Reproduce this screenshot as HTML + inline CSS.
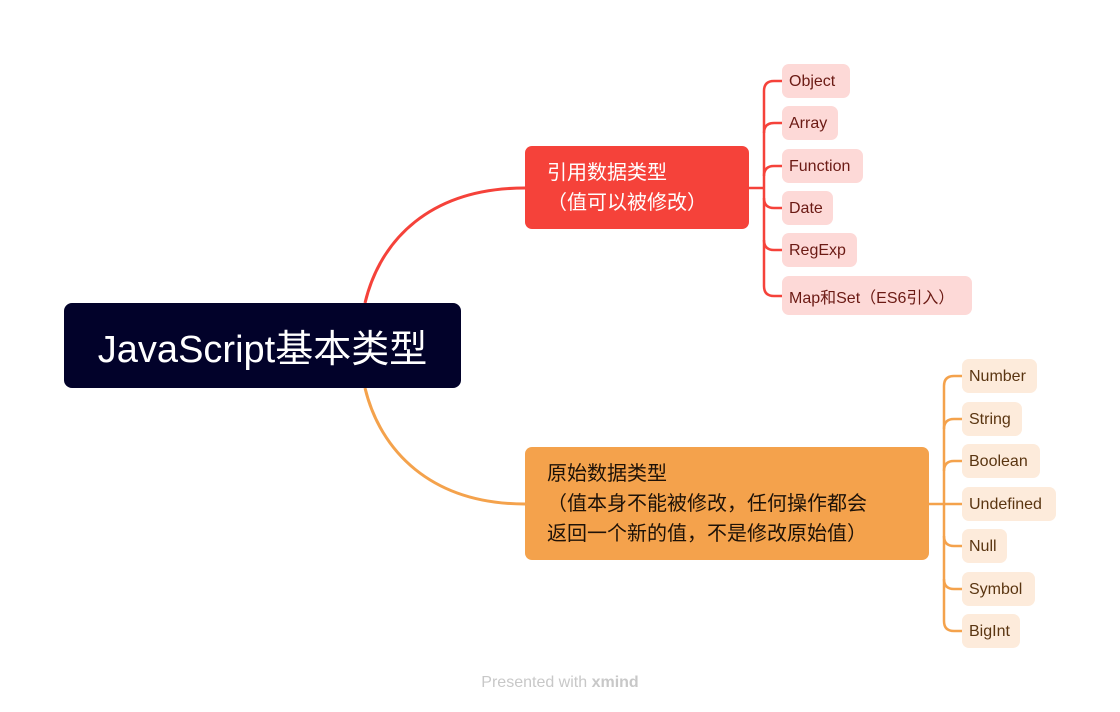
<!DOCTYPE html>
<html><head><meta charset="utf-8"><style>
body{margin:0;width:1120px;height:712px;background:#fff;position:relative;overflow:hidden;font-family:"Liberation Sans","Noto Sans CJK SC",sans-serif}
.n{position:absolute;box-sizing:border-box}
.r{background:#fdd9d7;color:#6b1a14;border-radius:7px;font-size:16px;padding-left:7px;padding-top:1px;display:flex;align-items:center}
.o{background:#fdebdb;color:#5a3511;border-radius:7px;font-size:16px;padding-left:7px;padding-top:1px;display:flex;align-items:center}
</style></head><body>
<svg width="1120" height="712" style="position:absolute;left:0;top:0">
<g fill="none" stroke-width="3">
<path d="M365 303 C380 240 430 188 525 188" stroke="#f5423a"/>
<path d="M365 388 C380 450 430 504 525 504" stroke="#f4a24c"/>
<g stroke="#f5423a" stroke-width="2.5">
<path d="M749 188 H764"/>
<path d="M782 81 H774 Q764 81 764 91 V286 Q764 296 774 296 H782"/>
<path d="M764 133 Q764 123 774 123 H782"/>
<path d="M764 176 Q764 166 774 166 H782"/>
<path d="M764 198 Q764 208 774 208 H782"/>
<path d="M764 240 Q764 250 774 250 H782"/>
</g>
<g stroke="#f4a24c" stroke-width="2.5">
<path d="M929 504 H944"/>
<path d="M962 376 H954 Q944 376 944 386 V621 Q944 631 954 631 H962"/>
<path d="M944 429 Q944 419 954 419 H962"/>
<path d="M944 471 Q944 461 954 461 H962"/>
<path d="M944 504 H962"/>
<path d="M944 536 Q944 546 954 546 H962"/>
<path d="M944 579 Q944 589 954 589 H962"/>
</g>
</g></svg>
<div class="n" style="left:64px;top:303px;width:397px;height:85px;background:#02022a;border-radius:8px;color:#fff;font-size:38px;display:flex;align-items:center;justify-content:center">JavaScript基本类型</div>
<div class="n" style="left:525px;top:146px;width:224px;height:83px;background:#f5423a;border-radius:7px;color:#fff;font-size:20px;padding:12px 0 0 22px;line-height:30px">引用数据类型<br>（值可以被修改）</div>
<div class="n" style="left:525px;top:447px;width:404px;height:113px;background:#f4a24c;border-radius:7px;color:#1e1208;font-size:20px;padding:12px 0 0 22px;line-height:30px">原始数据类型<br>（值本身不能被修改，任何操作都会<br>返回一个新的值，不是修改原始值）</div>
<div class="n r" style="left:782px;top:64px;width:68px;height:34px">Object</div>
<div class="n r" style="left:782px;top:106px;width:56px;height:34px">Array</div>
<div class="n r" style="left:782px;top:149px;width:81px;height:34px">Function</div>
<div class="n r" style="left:782px;top:191px;width:51px;height:34px">Date</div>
<div class="n r" style="left:782px;top:233px;width:75px;height:34px">RegExp</div>
<div class="n r" style="left:782px;top:276px;width:190px;height:39px">Map和Set（ES6引入）</div>
<div class="n o" style="left:962px;top:359px;width:75px;height:34px">Number</div>
<div class="n o" style="left:962px;top:402px;width:60px;height:34px">String</div>
<div class="n o" style="left:962px;top:444px;width:78px;height:34px">Boolean</div>
<div class="n o" style="left:962px;top:487px;width:94px;height:34px">Undefined</div>
<div class="n o" style="left:962px;top:529px;width:45px;height:34px">Null</div>
<div class="n o" style="left:962px;top:572px;width:73px;height:34px">Symbol</div>
<div class="n o" style="left:962px;top:614px;width:58px;height:34px">BigInt</div>
<div class="n" style="left:0;top:674px;width:1120px;text-align:center;color:#c8c8c8;font-size:16px">Presented with <b>xmind</b></div>
</body></html>
